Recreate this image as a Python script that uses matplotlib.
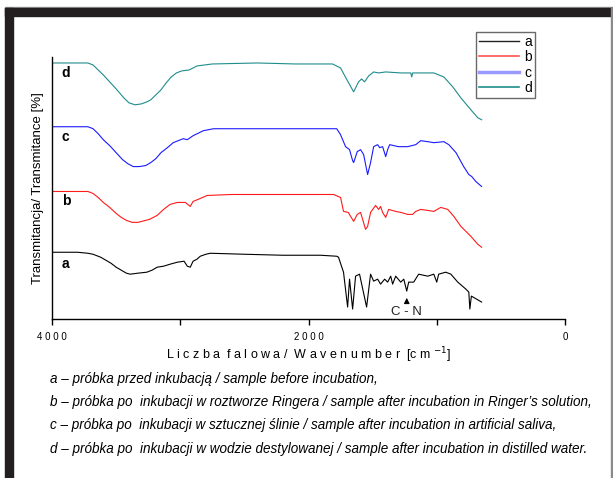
import matplotlib
matplotlib.use('Agg')
import matplotlib.pyplot as plt
from matplotlib.lines import Line2D
from matplotlib.patches import Rectangle
import numpy as np

plt.rcParams['font.family'] = ['Liberation Sans', 'DejaVu Sans']

# FTIR spectra (wavenumber [cm-1], transmittance in arbitrary offset units)
wn_a = [4000, 3800, 3720, 3680, 3620, 3580, 3540, 3500, 3460, 3420, 3390, 3330, 3260, 3220,
        3180, 3130, 3080, 3023, 2970, 2945, 2922, 2900, 2870, 2844, 2800, 2766, 2500, 2200,
        1906, 1780, 1766, 1727, 1695, 1680, 1656, 1633, 1602, 1547, 1516, 1492, 1461, 1438,
        1406, 1383, 1359, 1344, 1320, 1281, 1257, 1234, 1219, 1180, 1141, 1070, 1023, 1000,
        985, 930, 890, 836, 773, 750, 742, 730, 650]
tr_a = [67, 67, 66, 65, 62, 59, 56, 52, 49, 46, 45, 46, 47, 49,
        52, 53, 55, 57, 58, 53, 52, 58, 60, 63, 65, 66, 65, 64,
        64, 63, 62, 47, 12, 40, 10, 43, 45, 12, 45, 38, 40, 35,
        40, 37, 43, 35, 43, 37, 40, 28, 37, 37, 45, 43, 45, 37,
        45, 47, 45, 37, 30, 27, 10, 23, 17]

wn_b = [4000, 3720, 3680, 3640, 3600, 3550, 3500, 3460, 3420, 3375, 3330, 3300, 3240, 3180,
        3130, 3080, 3023, 2960, 2922, 2900, 2844, 2790, 2600, 2200, 1805, 1750, 1727, 1690,
        1648, 1620, 1594, 1555, 1539, 1516, 1477, 1453, 1438, 1422, 1398, 1375, 1320, 1281,
        1227, 1188, 1164, 1125, 1070, 1023, 969, 914, 867, 812, 734, 680, 650]
tr_b = [128, 128, 126, 122, 117, 112, 106, 102, 99, 97, 97, 98, 100, 104,
        110, 115, 117, 117, 113, 118, 121, 124, 125, 125, 125, 122, 108, 107,
        98, 105, 107, 90, 93, 107, 114, 110, 113, 107, 102, 110, 108, 107,
        105, 105, 108, 110, 109, 108, 112, 110, 103, 93, 83, 75, 72]

wn_c = [4000, 3720, 3680, 3640, 3600, 3550, 3500, 3450, 3410, 3367, 3320, 3270, 3230, 3190,
        3150, 3100, 3055, 2977, 2945, 2900, 2820, 2740, 2500, 2200, 1780, 1750, 1711, 1680,
        1656, 1648, 1620, 1594, 1570, 1539, 1516, 1492, 1461, 1445, 1422, 1398, 1383, 1367,
        1300, 1227, 1164, 1125, 1070, 1023, 945, 906, 850, 790, 750, 727, 695, 650]
tr_c = [193, 193, 191, 186, 180, 174, 167, 160, 156, 153, 153, 154, 157, 161,
        167, 172, 177, 181, 180, 184, 189, 191, 191, 191, 191, 185, 173, 170,
        159, 157, 168, 170, 165, 145, 157, 173, 175, 172, 173, 163, 170, 175,
        173, 173, 175, 179, 178, 177, 178, 175, 167, 153, 145, 143, 138, 133]

wn_d = [4000, 3720, 3680, 3640, 3600, 3550, 3500, 3440, 3400, 3352, 3300, 3260, 3230, 3190,
        3150, 3110, 3070, 3030, 2990, 2930, 2870, 2750, 2400, 2100, 1813, 1750, 1700, 1648,
        1610, 1586, 1563, 1531, 1492, 1453, 1398, 1281, 1203, 1195, 1188, 1125, 1023, 945,
        875, 812, 734, 680, 650]
tr_d = [257, 257, 255, 250, 245, 238, 231, 222, 217, 215, 216, 218, 220, 225,
        230, 237, 243, 247, 249, 250, 254, 256, 257, 256, 256, 252, 240, 228,
        238, 241, 238, 244, 248, 247, 248, 247, 247, 243, 247, 247, 247, 243,
        233, 222, 210, 202, 200]

series = ['a', 'b', 'c', 'd']
label_y = [55, 118, 183, 247]
xticks = [4000, 2000, 0]
xtick_labels = ['4 0 0 0', '2 0 0 0', '0']

captions = [
    'a \u2013 próbka przed inkubacją / sample before incubation,',
    'b \u2013 próbka po  inkubacji w roztworze Ringera / sample after incubation in Ringer\u2019s solution,',
    'c \u2013 próbka po  inkubacji w sztucznej ślinie / sample after incubation in artificial saliva,',
    'd \u2013 próbka po  inkubacji w wodzie destylowanej / sample after incubation in distilled water.',
]

W, H = 613, 478
fig = plt.figure(figsize=(W / 100, H / 100), dpi=100)
fig.patch.set_facecolor('white')

# frame around the figure
def px_rect(x0, y0, x1, y1, color):
    fig.patches.append(Rectangle((x0 / W, 1 - y1 / H), (x1 - x0) / W, (y1 - y0) / H,
                                 transform=fig.transFigure, color=color, zorder=0))

px_rect(5, 6.5, 613, 8, '#9a9a9a')
px_rect(5, 8, 613, 16, '#231f20')
px_rect(5, 8, 13, 478, '#231f20')
px_rect(610.5, 8, 612, 478, '#8a8a8a')

ax = fig.add_axes([52 / W, 1 - 319 / H, (565 - 52) / W, (319 - 57) / H])
cols = ['#000000', '#ff1a1a', '#1a1aff', '#1f8c8c']
data = [(wn_a, tr_a), (wn_b, tr_b), (wn_c, tr_c), (wn_d, tr_d)]
for (wn, tr), c, s in zip(data, cols, series):
    ax.plot(wn, tr, color=c, lw=0.8)
for s, ly in zip(series, label_y):
    ax.text(3925, ly, s, fontsize=10, fontweight='bold', va='center', ha='left')

ax.annotate('', xy=(1234, 24), xytext=(1234, 13),
            arrowprops=dict(arrowstyle='-|>', color='black', lw=0.8, mutation_scale=8))
ax.text(1234, 7, 'C - N', ha='center', va='center', fontsize=9.5, color='#222222')

ax.set_xlim(4000, 0)
ax.set_ylim(0, 263)
for sp in ['top', 'right']:
    ax.spines[sp].set_visible(False)
ax.spines['left'].set_linewidth(1.0)
ax.spines['bottom'].set_linewidth(1.0)
ax.set_yticks([])
ax.set_xticks(xticks)
ax.set_xticklabels(xtick_labels, fontsize=7)
ax.set_xticks([3000, 1000], minor=True)
ax.tick_params(axis='x', which='both', direction='out', length=4, width=1, pad=5)
ax.set_xlabel('L i c z b a  f a l o w a /  W a v e n u m b e r  [c m $^{-1}$]',
              fontsize=9, labelpad=3)
ax.set_ylabel('Transmitancja/ Transmitance [%]', fontsize=9.5, labelpad=6)

handles = [Line2D([], [], color='#222222', lw=1),
           Line2D([], [], color='#ff5555', lw=1.2),
           Line2D([], [], color='#9999ff', lw=2.5),
           Line2D([], [], color='#1f8c8c', lw=1.2)]
leg = fig.legend(handles, series, loc='upper left', bbox_to_anchor=(476 / W, 1 - 32 / H),
                 fontsize=10, frameon=True, fancybox=False, handlelength=2.9,
                 handletextpad=0.4, labelspacing=0.1, borderpad=0.2, borderaxespad=0)
leg.get_frame().set_edgecolor('#444444')
leg.get_frame().set_linewidth(1.0)

cap_y = [379, 402, 425, 449]
for t, yy in zip(captions, cap_y):
    fig.text(50 / W, 1 - yy / H, t, fontsize=9.75, style='italic', va='center', ha='left')

fig.savefig('out.png', dpi=100)
